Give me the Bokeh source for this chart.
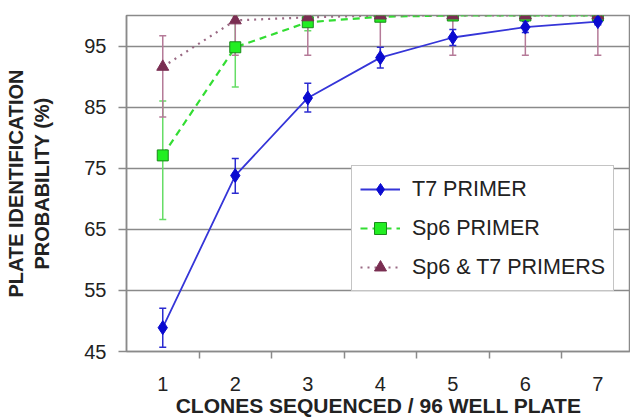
from bokeh.plotting import figure
from bokeh.models import (ColumnDataSource, Whisker, TeeHead, FixedTicker, Legend,
                          LegendItem, Range1d)
from bokeh.embed import file_html
from bokeh.resources import INLINE

# ---- data ----
clones = [1, 2, 3, 4, 5, 6, 7]
t7 = [48.9, 73.8, 86.5, 93.1, 96.4, 98.1, 99.0]
t7_lo = [45.7, 70.9, 84.2, 91.4, 95.1, 97.2, 98.5]
t7_hi = [52.1, 76.6, 88.9, 94.8, 97.7, 99.0, 99.5]
sp6 = [77.1, 94.8, 98.9, 99.8, 100.0, 100.0, 100.0]
sp6_lo = [66.6, 88.3, 97.5, 99.5, 99.8, 99.9, 99.9]
sp6_hi = [86.0, 100.0, 100.0, 100.0, 100.0, 100.0, 100.0]
both = [91.6, 99.2, 99.7, 100.0, 100.0, 100.0, 100.0]
both_lo = [83.4, 93.5, 93.5, 93.5, 93.5, 93.5, 93.5]
both_hi = [96.7, 100.0, 100.0, 100.0, 100.0, 100.0, 100.0]
y_ticks = [45, 55, 65, 75, 85, 95]
series_names = ["T7 PRIMER", "Sp6 PRIMER", "Sp6 & T7 PRIMERS"]
x_title = "CLONES SEQUENCED / 96 WELL PLATE"
y_title = "PLATE IDENTIFICATION\nPROBABILITY (%)"

FONT = "Liberation Sans"
GRID = "#8a8a8a"

p = figure(width=630, height=419, output_backend="svg", toolbar_location=None,
           x_range=Range1d(0.5, 7.45), y_range=Range1d(45, 100),
           min_border_top=15, min_border_right=0, min_border_left=126,
           min_border_bottom=40)
p.background_fill_color = "white"
p.border_fill_color = "white"
p.outline_line_color = GRID
p.outline_line_width = 1.5

# grids
p.xgrid.grid_line_color = None
p.ygrid.grid_line_color = GRID
p.ygrid.grid_line_width = 1.5
p.ygrid.ticker = FixedTicker(ticks=y_ticks)

# y axis
p.yaxis.ticker = FixedTicker(ticks=y_ticks)
p.yaxis.axis_line_color = GRID
p.yaxis.axis_line_width = 1.5
p.yaxis.major_tick_line_color = GRID
p.yaxis.major_tick_line_width = 1.5
p.yaxis.major_tick_out = 8
p.yaxis.major_tick_in = 0
p.yaxis.minor_tick_line_color = None
p.yaxis.major_label_text_font = FONT
p.yaxis.major_label_text_font_size = "20px"
p.yaxis.major_label_text_color = "#222222"
p.yaxis.major_label_standoff = 12
p.yaxis.axis_label = y_title
p.yaxis.axis_label_text_font = FONT
p.yaxis.axis_label_text_font_style = "bold"
p.yaxis.axis_label_text_font_size = "20px"
p.yaxis.axis_label_text_color = "#222222"
p.yaxis.axis_label_standoff = 28

# x axis
p.xaxis.ticker = FixedTicker(ticks=clones, minor_ticks=[c + 0.5 for c in clones])
p.xaxis.axis_line_color = GRID
p.xaxis.axis_line_width = 1.5
p.xaxis.major_tick_line_color = None
p.xaxis.major_tick_out = 7
p.xaxis.minor_tick_line_color = GRID
p.xaxis.minor_tick_line_width = 1.5
p.xaxis.minor_tick_out = 7
p.xaxis.minor_tick_in = 0
p.xaxis.major_label_text_font = FONT
p.xaxis.major_label_text_font_size = "20px"
p.xaxis.major_label_text_color = "#222222"
p.xaxis.major_label_standoff = 18
p.xaxis.axis_label = x_title
p.xaxis.axis_label_text_font = FONT
p.xaxis.axis_label_text_font_style = "bold"
p.xaxis.axis_label_text_font_size = "21px"
p.xaxis.axis_label_text_color = "#222222"
p.xaxis.axis_label_standoff = 0

src = ColumnDataSource(dict(x=clones, t7=t7, t7_lo=t7_lo, t7_hi=t7_hi,
                            sp6=sp6, sp6_lo=sp6_lo, sp6_hi=sp6_hi,
                            both=both, both_lo=both_lo, both_hi=both_hi))

def add_whisker(lo, hi, color):
    w = Whisker(source=src, base="x", lower=lo, upper=hi,
                line_color=color, line_width=1.5,
                upper_head=TeeHead(size=7, line_color=color, line_width=1.5),
                lower_head=TeeHead(size=7, line_color=color, line_width=1.5))
    p.add_layout(w)

add_whisker("sp6_lo", "sp6_hi", "#66dd66")
add_whisker("both_lo", "both_hi", "#b57a98")
add_whisker("t7_lo", "t7_hi", "#2b2bd0")

l_t7 = p.line("x", "t7", source=src, line_color="#3535d8", line_width=1.8)
l_sp6 = p.line("x", "sp6", source=src, line_color="#33dd33", line_width=2.2,
               line_dash="7 5")
l_both = p.line("x", "both", source=src, line_color="#9a6a84", line_width=2.2,
                line_dash="2 5")
m_sp6 = p.scatter("x", "sp6", source=src, marker="square", size=11,
                  fill_color="#22ee22", line_color="#1a8a1a", line_width=1)
m_both = p.scatter("x", "both", source=src, marker="triangle", size=12,
                   fill_color="#7a2e52", line_color="#7a2e52")
m_t7 = p.scatter("x", "t7", source=src, marker="diamond", size=14,
                 fill_color="#0a0ad0", line_color="#0a0ad0")

legend = Legend(items=[
    LegendItem(label=series_names[0], renderers=[l_t7, m_t7]),
    LegendItem(label=series_names[1], renderers=[l_sp6, m_sp6]),
    LegendItem(label=series_names[2], renderers=[l_both, m_both]),
], location=(225, 60))
legend.label_text_font = FONT
legend.label_text_font_size = "21.5px"
legend.label_text_color = "#222222"
legend.glyph_width = 40
legend.glyph_height = 30
legend.label_height = 30
legend.spacing = 9
legend.padding = 8
legend.margin = 0
legend.label_standoff = 12
legend.border_line_color = GRID
legend.border_line_width = 1.5
legend.background_fill_color = "white"
legend.background_fill_alpha = 1
p.add_layout(legend, "center")

open("out.html", "w").write(file_html(p, INLINE))
